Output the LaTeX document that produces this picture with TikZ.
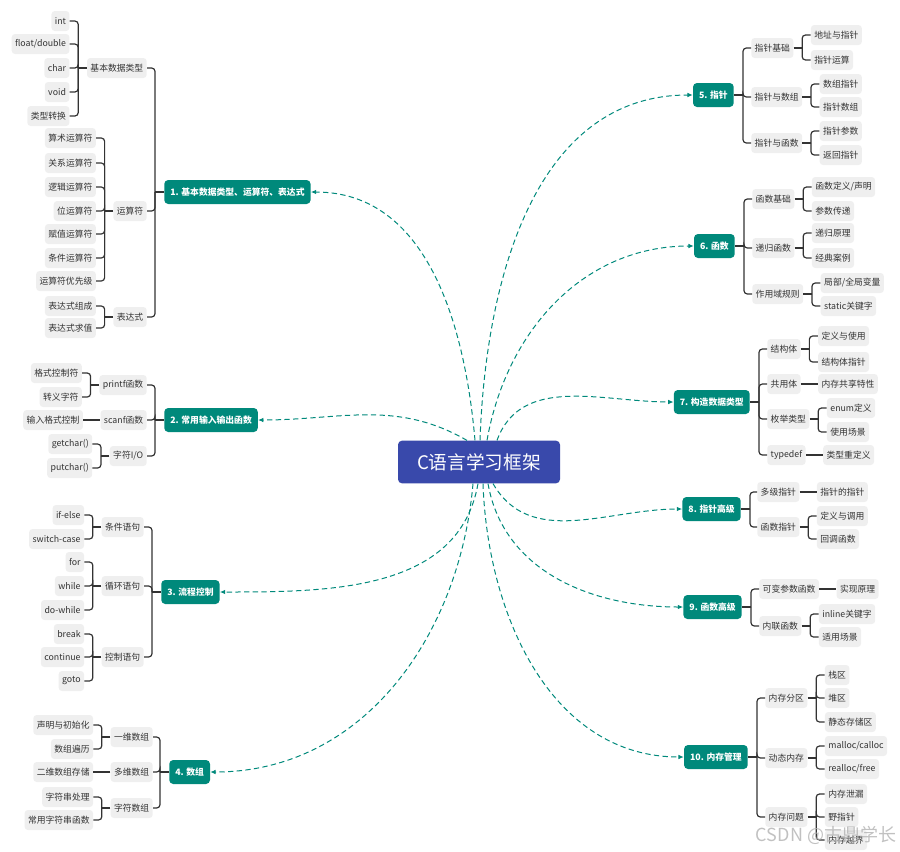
\documentclass[tikz,border=0pt]{standalone}
\usepackage{fontspec}
\setmainfont{Noto Sans CJK SC}
\usetikzlibrary{arrows.meta}

\definecolor{topicteal}{HTML}{00897B}
\definecolor{rootblue}{HTML}{3949AB}
\definecolor{nodegrey}{HTML}{EFEFEF}
\definecolor{linkgrey}{HTML}{333333}
\definecolor{txtgrey}{HTML}{333333}

\tikzset{
  root/.style={fill=rootblue, text=white, rounded corners=3pt, minimum width=121.5pt,
    minimum height=32pt, inner sep=0pt, font=\fontsize{14}{16}\selectfont},
  topic/.style={fill=topicteal, text=white, rounded corners=3pt, minimum height=18pt,
    inner xsep=4.5pt, inner ysep=0pt, font=\fontsize{6.6}{8}\selectfont\bfseries},
  sub/.style={fill=nodegrey, text=txtgrey, rounded corners=2.5pt, minimum height=15pt,
    inner xsep=2.6pt, inner ysep=0pt, font=\fontsize{6.6}{8}\selectfont},
  leaf/.style={sub},
  link/.style={draw=linkgrey, line width=0.9pt, rounded corners=2.5pt},
  flow/.style={draw=topicteal, line width=0.75pt, dash pattern=on 4pt off 2.5pt,
    -{Latex[length=4pt,width=3.5pt]}},
}

% fork from a topic to its sub nodes
\newcommand\lfork[2]{%
  \path (#1.west) ++(-9,0) coordinate (#1j);
  \draw[link] (#1.west) -- (#1j);
  \foreach \c in {#2} \draw[link] (#1j) |- (\c.east);}
\newcommand\rfork[2]{%
  \path (#1.east) ++(9,0) coordinate (#1j);
  \draw[link] (#1.east) -- (#1j);
  \foreach \c in {#2} \draw[link] (#1j) |- (\c.west);}

% leaves of a sub node, given as text/y
\newcommand\lleaves[2]{%
  \path (#1.west) ++(-8.5,0) coordinate (#1j) ++(-8.5,0) coordinate (#1x);
  \draw[link] (#1.west) -- (#1j);
  \foreach \t/\y [count=\i] in {#2} {
    \coordinate (#1y) at (0,-\y);
    \node[leaf, anchor=east] (#1-\i) at (#1x |- #1y) {\t};
    \draw[link] (#1j) |- (#1-\i.east);
  }}
\newcommand\rleaves[2]{%
  \path (#1.east) ++(8.5,0) coordinate (#1j) ++(8.5,0) coordinate (#1x);
  \draw[link] (#1.east) -- (#1j);
  \foreach \t/\y [count=\i] in {#2} {
    \coordinate (#1y) at (0,-\y);
    \node[leaf, anchor=west] (#1-\i) at (#1x |- #1y) {\t};
    \draw[link] (#1j) |- (#1-\i.west);
  }}
% a single leaf in line with its sub node
\newcommand\lleaf[2]{%
  \node[leaf, anchor=east] (#1-1) at ([xshift=-12.75pt]#1.west) {#2};
  \draw[link] (#1.west) -- (#1-1.east);}
\newcommand\rleaf[2]{%
  \node[leaf, anchor=west] (#1-1) at ([xshift=12.75pt]#1.east) {#2};
  \draw[link] (#1.east) -- (#1-1.west);}

\begin{document}
\begin{tikzpicture}[x=0.75pt, y=0.75pt]
  \useasboundingbox (0,0) rectangle (900,-851);

  %%%%% ROOT %%%%%
  \node[root] (root) at (479,-462) {C语言学习框架};

  %%%%% LEFT %%%%%
  \node[topic, anchor=west] (b1) at (164,-192) {1. 基本数据类型、运算符、表达式};
  \node[sub, anchor=east] (s11) at (147,-68) {基本数据类型};
  \node[sub, anchor=east] (s12) at (147,-211) {运算符};
  \node[sub, anchor=east] (s13) at (147,-317) {表达式};
  \lfork{b1}{s11,s12,s13}
  \lleaves{s11}{int/21, {float/double}/44, char/68, void/92, 类型转换/116}
  \lleaves{s12}{算术运算符/138, 关系运算符/163, 逻辑运算符/187, 位运算符/211,
    赋值运算符/234, 条件运算符/258, 运算符优先级/281}
  \lleaves{s13}{表达式组成/306, 表达式求值/328}

  \node[topic, anchor=west] (b2) at (164,-420) {2. 常用输入输出函数};
  \node[sub, anchor=east] (s21) at (147,-385) {printf函数};
  \node[sub, anchor=east] (s22) at (147,-420) {scanf函数};
  \node[sub, anchor=east] (s23) at (147,-456) {字符I/O};
  \lfork{b2}{s21,s22,s23}
  \lleaves{s21}{格式控制符/373, 转义字符/397}
  \lleaf{s22}{输入格式控制}
  \lleaves{s23}{getchar()/444, putchar()/468}

  \node[topic, anchor=west] (b3) at (161,-592) {3. 流程控制};
  \node[sub, anchor=east] (s31) at (144,-527) {条件语句};
  \node[sub, anchor=east] (s32) at (144,-586) {循环语句};
  \node[sub, anchor=east] (s33) at (144,-657) {控制语句};
  \lfork{b3}{s31,s32,s33}
  \lleaves{s31}{if-else/515, switch-case/539}
  \lleaves{s32}{for/562, while/586, do-while/610}
  \lleaves{s33}{break/634, continue/657, goto/681}

  \node[topic, anchor=west] (b4) at (169,-772) {4. 数组};
  \node[sub, anchor=east] (s41) at (153,-737) {一维数组};
  \node[sub, anchor=east] (s42) at (153,-772) {多维数组};
  \node[sub, anchor=east] (s43) at (153,-808) {字符数组};
  \lfork{b4}{s41,s42,s43}
  \lleaves{s41}{声明与初始化/725, 数组遍历/749}
  \lleaf{s42}{二维数组存储}
  \lleaves{s43}{字符串处理/797, 常用字符串函数/820}

  %%%%% RIGHT %%%%%
  \node[topic, anchor=east] (b5) at (734,-95) {5. 指针};
  \node[sub, anchor=west] (s51) at (751,-48) {指针基础};
  \node[sub, anchor=west] (s52) at (751,-97) {指针与数组};
  \node[sub, anchor=west] (s53) at (751,-143) {指针与函数};
  \rfork{b5}{s51,s52,s53}
  \rleaves{s51}{地址与指针/35, 指针运算/60}
  \rleaves{s52}{数组指针/84, 指针数组/107}
  \rleaves{s53}{指针参数/131, 返回指针/155}

  \node[topic, anchor=east] (b6) at (735,-246) {6. 函数};
  \node[sub, anchor=west] (s61) at (752,-199) {函数基础};
  \node[sub, anchor=west] (s62) at (752,-248) {递归函数};
  \node[sub, anchor=west] (s63) at (752,-294) {作用域规则};
  \rfork{b6}{s61,s62,s63}
  \rleaves{s61}{{函数定义/声明}/187, 参数传递/211}
  \rleaves{s62}{递归原理/233, 经典案例/258}
  \rleaves{s63}{{局部/全局变量}/283, static关键字/306}

  \node[topic, anchor=east] (b7) at (750,-402) {7. 构造数据类型};
  \node[sub, anchor=west] (s71) at (767,-349) {结构体};
  \node[sub, anchor=west] (s72) at (767,-384) {共用体};
  \node[sub, anchor=west] (s73) at (767,-419) {枚举类型};
  \node[sub, anchor=west] (s74) at (767,-455) {typedef};
  \rfork{b7}{s71,s72,s73,s74}
  \rleaves{s71}{定义与使用/336, 结构体指针/362}
  \rleaf{s72}{内存共享特性}
  \rleaves{s73}{enum定义/408, 使用场景/432}
  \rleaf{s74}{类型重定义}

  \node[topic, anchor=east] (b8) at (741,-509) {8. 指针高级};
  \node[sub, anchor=west] (s81) at (757,-492) {多级指针};
  \node[sub, anchor=west] (s82) at (757,-527) {函数指针};
  \rfork{b8}{s81,s82}
  \rleaf{s81}{指针的指针}
  \rleaves{s82}{定义与调用/516, 回调函数/539}

  \node[topic, anchor=east] (b9) at (742,-607) {9. 函数高级};
  \node[sub, anchor=west] (s91) at (759,-589) {可变参数函数};
  \node[sub, anchor=west] (s92) at (759,-626) {内联函数};
  \rfork{b9}{s91,s92}
  \rleaf{s91}{实现原理}
  \rleaves{s92}{inline关键字/614, 适用场景/637}

  \node[topic, anchor=east] (b10) at (748,-757) {10. 内存管理};
  \node[sub, anchor=west] (s101) at (765,-698) {内存分区};
  \node[sub, anchor=west] (s102) at (765,-758) {动态内存};
  \node[sub, anchor=west] (s103) at (765,-817) {内存问题};
  \rfork{b10}{s101,s102,s103}
  \rleaves{s101}{栈区/675, 堆区/698, 静态存储区/722}
  \rleaves{s102}{{malloc/calloc}/746, {realloc/free}/769}
  \rleaves{s103}{内存泄漏/794, 野指针/817, 内存越界/840}

  %%%%% DASHED LINKS %%%%%
  \draw[flow] ([xshift=-3pt]root.north) to[out=95,in=0] (b1.east);
  \draw[flow] ([xshift=-9pt]root.north) to[out=150,in=0] (b2.east);
  \draw[flow] ([xshift=-0.75pt]root.south) to[out=-100,in=0] (b3.east);
  \draw[flow] ([xshift=-4.5pt]root.south) to[out=-95,in=0] (b4.east);
  \draw[flow] ([xshift=0.75pt]root.north) to[out=88,in=180] (b5.west);
  \draw[flow] ([xshift=6pt]root.north) to[out=80,in=180] (b6.west);
  \draw[flow] ([xshift=13.5pt]root.north) to[out=70,in=180] (b7.west);
  \draw[flow] ([xshift=10.5pt]root.south) to[out=-60,in=180] (b8.west);
  \draw[flow] ([xshift=6.75pt]root.south) to[out=-80,in=180] (b9.west);
  \draw[flow] ([xshift=3pt]root.south) to[out=-88,in=180] (b10.west);

  % watermark
  \node[text=black!30, opacity=0.8, font=\fontsize{13.5}{15}\selectfont] (mark) at (826,-835) {CSDN @古鼎学长};
\end{tikzpicture}
\end{document}
